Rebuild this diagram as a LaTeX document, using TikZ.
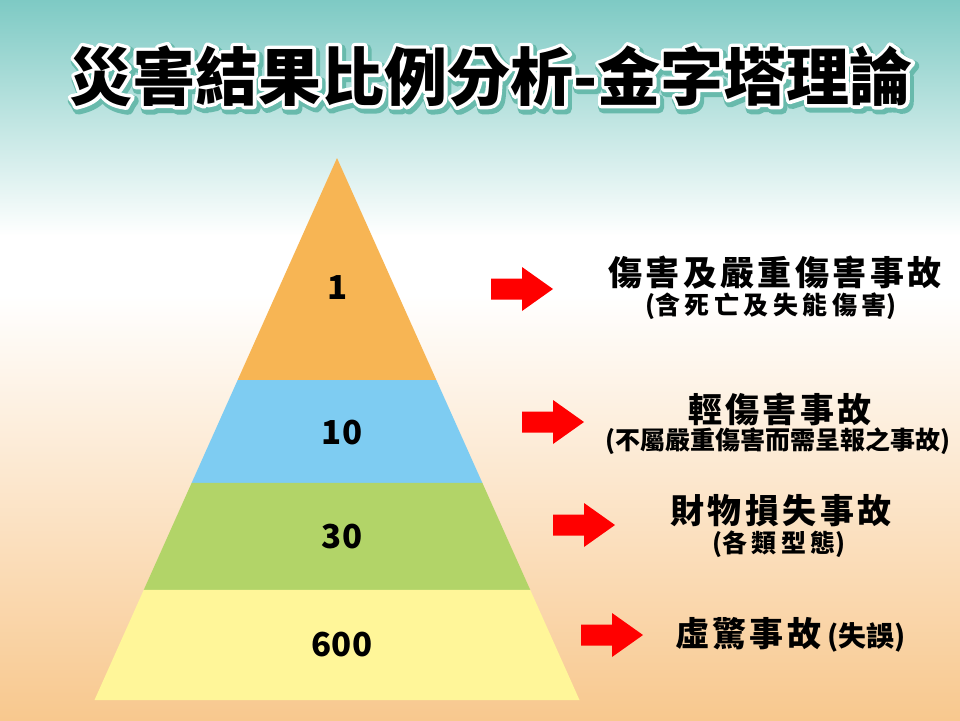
\documentclass[tikz,border=0pt]{standalone}
\usepackage{fontspec}
\newfontfamily\cjk{Noto Sans CJK TC}
\newfontfamily\cjkwide[LetterSpace=10]{Noto Sans CJK TC}
\newfontfamily\cjkwider[LetterSpace=18]{Noto Sans CJK TC}
\newfontfamily\halofont[FakeBold=11]{Noto Sans CJK TC}
\newfontfamily\shadowfont[FakeBold=17]{Noto Sans CJK TC}
\usetikzlibrary{calc}
\definecolor{bgteal}{RGB}{126,202,196}
\definecolor{bgpeach}{RGB}{248,200,142}
\definecolor{layerA}{RGB}{247,181,84}
\definecolor{layerB}{RGB}{126,204,242}
\definecolor{layerC}{RGB}{178,212,104}
\definecolor{layerD}{RGB}{255,246,153}
\definecolor{arrowred}{RGB}{255,0,0}
\definecolor{titleshadow}{RGB}{104,186,172}
\tikzset{
  titletext/.style={font=\cjk\bfseries\fontsize{63}{63}\selectfont, inner sep=0pt},
  num/.style={font=\cjk\bfseries\fontsize{33}{33}\selectfont, inner sep=0pt},
  mainlbl/.style={font=\cjkwide\bfseries\fontsize{34}{34}\selectfont, inner sep=0pt},
  sublbl/.style={font=\cjk\bfseries\fontsize{25}{25}\selectfont, inner sep=0pt},
  blockarrow/.pic={
    \fill[arrowred] (0,-10.5) -- (31,-10.5) -- (31,-22) -- (62,0)
      -- (31,22) -- (31,10.5) -- (0,10.5) -- cycle;
  }
}
\begin{document}
\begin{tikzpicture}[x=1pt,y=-1pt]
    % background
    \useasboundingbox (0,0) rectangle (960,720);
    \shade[top color=bgteal, bottom color=white] (0,0) rectangle (960,236);
    \fill[white] (0,235) rectangle (960,296);
    \shade[top color=white, bottom color=bgpeach] (0,295) rectangle (960,720);
	%
    % title
    \coordinate (titlepos) at (491,76);
    \node[titletext, font=\shadowfont\bfseries\fontsize{63}{63}\selectfont, text=titleshadow]
      (titleshadow) at ($(titlepos)+(2,3)$) {\special{pdf:code 1 j 1 J}災害結果比例分析-金字塔理論};
    \node[titletext, font=\halofont\bfseries\fontsize{63}{63}\selectfont, text=white]
      (titlehalo) at (titlepos) {\special{pdf:code 1 j 1 J}災害結果比例分析-金字塔理論};
    \node[titletext, text=black] (title) at (titlepos) {災害結果比例分析-金字塔理論};
	%
    % pyramid
    \coordinate (apex) at (337,158);
    \coordinate (bl) at (94.5,700);
    \coordinate (br) at (579.5,700);
    \foreach \top/\bot/\col in {0/0.4096/layerA, 0.4096/0.5996/layerB,
                                0.5996/0.7970/layerC, 0.7970/1/layerD}
      \fill[\col] ($(apex)!\top!(bl)$) -- ($(apex)!\bot!(bl)$)
        -- ($(apex)!\bot!(br)$) -- ($(apex)!\top!(br)$) -- cycle;
	%
    \node[num] (n1) at (338,288) {1};
    \node[num] (n10) at (342,433) {10};
    \node[num] (n30) at (342,537) {30};
    \node[num] (n600) at (342,645) {600};
	%
    % arrows
    \pic (arrA) at (491,289) {blockarrow};
    \pic (arrB) at (522,422) {blockarrow};
    \pic (arrC) at (553,525) {blockarrow};
    \pic (arrD) at (581,635) {blockarrow};
	%
    % labels
    \node[mainlbl] (mainA) at (775,273) {傷害及嚴重傷害事故};
    \node[sublbl] (subA) at (771,306)
      {({\cjkwider\bfseries 含死亡及失能傷害})};
  	%
    \node[mainlbl] (mainB) at (780,409) {輕傷害事故};
    \node[sublbl] (subB) at (778,441) {(不屬嚴重傷害而需呈報之事故)};
  	%
    \node[mainlbl] (mainC) at (781,511) {財物損失事故};
    \node[sublbl] (subC) at (779,544) {({\cjkwider\bfseries 各類型態})};
  	%
    \node[mainlbl, anchor=west] (mainD) at (675,635)
      {虛驚事故\,{\cjk\fontsize{28}{28}\selectfont(失誤)}};
\end{tikzpicture}
\end{document}
